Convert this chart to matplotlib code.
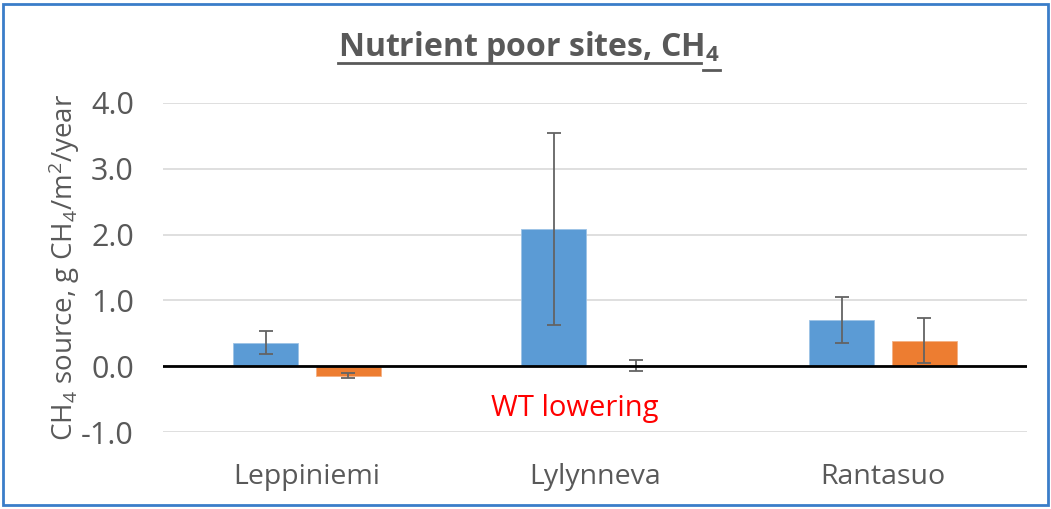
import matplotlib
matplotlib.use("Agg")
import matplotlib.pyplot as plt
import numpy as np
from matplotlib.lines import Line2D
from matplotlib.patches import Rectangle

plt.rcParams['font.family'] = ['Open Sans', 'DejaVu Sans']
plt.rcParams['mathtext.default'] = 'regular'

categories = ["Leppiniemi", "Lylynneva", "Rantasuo"]
series1 = [0.36, 2.09, 0.70]          # blue
series1_err = [0.17, 1.46, 0.35]
series2 = [-0.145, 0.005, 0.39]       # orange
series2_err = [0.035, 0.085, 0.34]
yticks = [-1.0, 0.0, 1.0, 2.0, 3.0, 4.0]

W, H = 1051, 509
fig = plt.figure(figsize=(W / 100, H / 100), dpi=100)
ax = fig.add_axes([163 / W, (H - 432) / H, (1027 - 163) / W, (432 - 103) / H])

x = np.arange(len(categories))
bw = 0.226
off = 0.144
gray = '#595959'
ax.bar(x - off, series1, bw, color='#5B9BD5', edgecolor='#9DC3E6', linewidth=0.6, zorder=3)
ax.bar(x + off, series2, bw, color='#ED7D31', edgecolor='#F4B183', linewidth=0.6, zorder=3)
ax.errorbar(x - off, series1, yerr=series1_err, fmt='none', ecolor='#636363',
            elinewidth=1.3, capsize=5, capthick=1.3, zorder=4)
ax.errorbar(x + off, series2, yerr=series2_err, fmt='none', ecolor='#636363',
            elinewidth=1.3, capsize=5, capthick=1.3, zorder=4)

ax.set_xlim(-0.5, 2.5)
ax.set_ylim(-1.0, 4.0)
ax.set_yticks(yticks)
ax.set_yticklabels([f"{v:.1f}" for v in yticks])
ax.set_xticks(x)
ax.set_xticklabels(categories)
ax.tick_params(axis='y', length=0, labelsize=22, colors=gray, pad=21)
ax.tick_params(axis='x', length=0, labelsize=20.5, colors=gray, pad=22)
ax.grid(axis='y', color='#D9D9D9', linewidth=1.2, zorder=0)
ax.set_axisbelow(True)
for s in ax.spines.values():
    s.set_visible(False)
ax.axhline(0, color='black', linewidth=2, zorder=5)

ax.set_ylabel(r"CH$_4$ source, g CH$_4$/m$^2$/year", fontsize=20, color=gray, labelpad=-1)

ax.text(1 - 0.07, -0.64, "WT lowering", color='#FF0000', fontsize=21,
        ha='center', va='center', transform=ax.transData)

# title with underline
title = fig.text(529 / W, 1 - 48 / H, r"Nutrient poor sites, CH$_4$", fontsize=23,
                 fontweight='bold', color=gray, ha='center', va='center')
fig.canvas.draw()
r = fig.canvas.get_renderer()
bb = title.get_window_extent(r)
sub_w = 17
fig.add_artist(Line2D([bb.x0 / W, (bb.x1 - sub_w - 2) / W], [1 - 63 / H] * 2,
                      color=gray, linewidth=2, transform=fig.transFigure))
fig.add_artist(Line2D([(bb.x1 - sub_w) / W, bb.x1 / W], [1 - 70 / H] * 2,
                      color=gray, linewidth=2, transform=fig.transFigure))

# figure border
fig.add_artist(Rectangle((3 / W, 4 / H), (W - 6) / W, (H - 8) / H, fill=False,
                         edgecolor='#3A7DC9', linewidth=2, transform=fig.transFigure))

fig.savefig("out.png", dpi=100)
